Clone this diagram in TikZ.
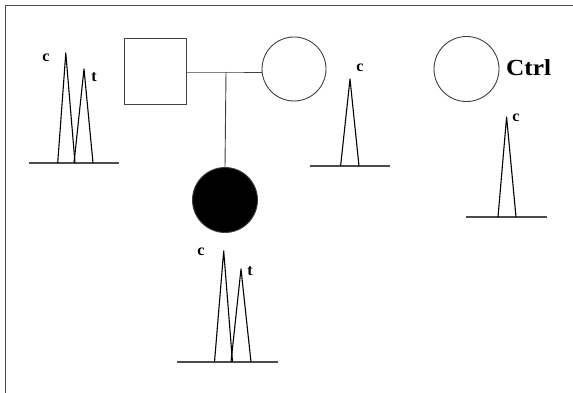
\documentclass[tikz,border=0pt]{standalone}
\usepackage{fontspec}
\setmainfont{Liberation Serif}
\begin{document}
\begin{tikzpicture}[x=1pt,y=-1pt,
  ped/.style={draw=black!75,line width=0.9pt},
  peak/.style={draw=black,line width=1.1pt,line join=round},
  base/.style={draw=black!70,line width=1.4pt},
  lab/.style={font=\bfseries\fontsize{16}{16}\selectfont,inner sep=0pt},
  frame/.style={draw=black!70,line width=1pt}]
\useasboundingbox (0,0) rectangle (573,393);
\fill[white] (0,0) rectangle (573,393);
\draw[frame] (5,393) -- (5,6) -- (573,6);
% pedigree
\node[ped,rectangle,minimum width=62pt,minimum height=66pt,inner sep=0pt] (father) at (155,71.5) {};
\node[ped,circle,minimum size=64pt,inner sep=0pt] (mother) at (294,69) {};
\node[ped,circle,fill=black,minimum size=65pt,inner sep=0pt] (child) at (225,200) {};
\node[ped,circle,minimum size=65pt,inner sep=0pt] (ctrl) at (466.5,69) {};
\node[font=\bfseries\fontsize{23}{23}\selectfont,anchor=west,inner sep=0pt,xscale=1.1] (ctrllab) at (506,68) {Ctrl};
\coordinate (mid) at (226,72);
\draw[ped] (father.east |- mid) -- (mid) -- (mother.west |- mid);
\draw[ped] (mid) -- (child.north);
% father peaks
\draw[base] (28.5,163) -- (119,163);
\draw[peak] (57.7,163) -- (65.8,53) -- (75,163);
\draw[peak] (74,163) -- (84,69) -- (93,163);
\node[lab] (fc) at (46,58) {c};
\node[lab] (ft) at (94,77) {t};
% mother peak
\draw[base] (310,166) -- (390,166);
\draw[peak] (340.6,166) -- (350,79) -- (359,166);
\node[lab] (mc) at (360,68) {c};
% ctrl peak
\draw[base] (466,217) -- (547,217);
\draw[peak] (498,217) -- (506.6,117) -- (516,217);
\node[lab] (cc) at (516,118) {c};
% child peaks
\draw[base] (177,362) -- (278,362);
\draw[peak] (214.5,362) -- (223.7,251) -- (232.5,362);
\draw[peak] (231,362) -- (241,269) -- (251,362);
\node[lab] (kc) at (201,252) {c};
\node[lab] (kt) at (250,271) {t};
\end{tikzpicture}
\end{document}
